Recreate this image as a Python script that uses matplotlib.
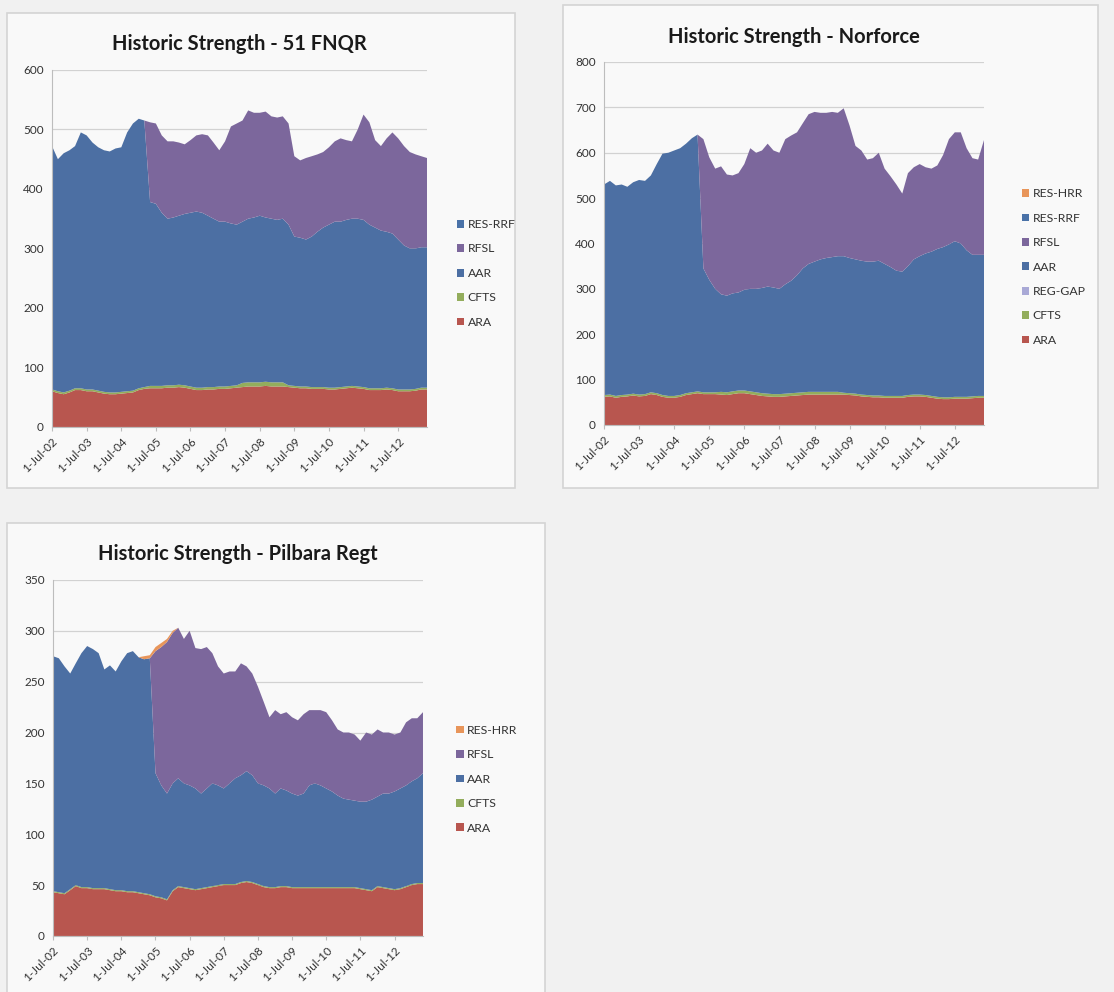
import pandas as pd
import matplotlib
matplotlib.use("Agg")
import matplotlib.pyplot as plt
from matplotlib.patches import Rectangle

# bi-monthly samples (Jul-02 .. May-13)
dates = pd.date_range("2002-07-01", periods=66, freq="2MS")

# ---- 51 FNQR ----
fnqr_ara = [60, 57, 55, 58, 62, 62, 60, 60, 58, 56, 55, 55, 56, 57, 58, 62, 64, 65, 65, 65,
            66, 66, 67, 66, 64, 62, 62, 63, 63, 64, 64, 65, 66, 67, 68, 68, 68, 69, 68, 68,
            68, 67, 66, 65, 65, 64, 64, 64, 63, 63, 64, 65, 66, 65, 64, 62, 62, 62, 63, 62,
            60, 60, 60, 61, 63, 63]
fnqr_cfts = [3] * 17 + [4] * 16 + [7] * 8 + [3] * 25
fnqr_aar = [409, 390, 402, 404, 407, 430, 427, 415, 409, 406, 405, 410, 411, 435, 449, 453, 448,
            309, 306, 291, 280, 282, 284, 288, 292, 296, 294, 288, 283, 277, 277, 273, 270,
            271, 275, 277, 280, 276, 275, 273, 275, 270, 251, 250, 247, 253, 261, 268, 274,
            279, 278, 280, 281, 282, 281, 275, 270, 265, 262, 260, 252, 242, 237, 236, 236, 236]
fnqr_rfsl = [0] * 17 + [134, 135, 130, 130, 128, 123, 117, 122, 128, 132, 135, 128, 120, 135,
                        163, 170, 170, 182, 176, 173, 178, 172, 172, 172, 170, 135, 130, 137,
                        135, 130, 127, 130, 135, 140, 134, 130, 150, 177, 172, 147, 142, 157,
                        170, 170, 167, 162, 158, 153, 150]
fnqr_res_rrf = [0] * 66

# ---- Norforce ----
nor_ara = [62, 63, 60, 62, 63, 65, 63, 64, 68, 66, 62, 60, 60, 62, 66, 68, 70, 68, 68, 68,
           67, 66, 68, 70, 70, 68, 66, 64, 63, 62, 62, 63, 64, 65, 66, 67, 67, 67, 67, 67,
           67, 67, 66, 65, 63, 62, 61, 61, 60, 60, 60, 60, 62, 63, 63, 62, 60, 58, 57, 57,
           58, 58, 58, 59, 60, 60]
nor_cfts = [4] * 20 + [6] * 21 + [4] * 25
nor_reg_gap = [0] * 66
nor_aar = [464, 471, 464, 464, 458, 466, 473, 470, 478, 505, 532, 536, 541, 544, 550, 560, 566,
           273, 248, 228, 215, 213, 216, 216, 222, 226, 228, 232, 236, 235, 232, 241, 248,
           259, 273, 282, 287, 292, 295, 297, 299, 301, 298, 296, 295, 294, 295, 297, 291,
           284, 276, 274, 284, 298, 305, 312, 318, 326, 331, 337, 343, 338, 323, 312, 311, 311]
nor_rfsl = [0] * 17 + [285, 270, 265, 282, 267, 260, 263, 277, 310, 300, 303, 315, 302, 300,
                       320, 320, 315, 320, 330, 330, 323, 320, 320, 316, 326, 292, 250, 243,
                       225, 228, 238, 210, 200, 190, 172, 205, 203, 203, 190, 183, 184, 203,
                       232, 240, 245, 225, 213, 210, 253]
nor_res_rrf = [0] * 66
nor_res_hrr = [0] * 66

# ---- Pilbara Regt ----
pil_ara = [43, 42, 41, 45, 49, 47, 47, 46, 46, 46, 45, 44, 44, 43, 43, 42, 41, 40, 38, 37,
           35, 44, 48, 47, 46, 45, 46, 47, 48, 49, 50, 50, 50, 52, 53, 52, 50, 48, 47, 47,
           48, 48, 47, 47, 47, 47, 47, 47, 47, 47, 47, 47, 47, 47, 46, 45, 44, 48, 47, 46,
           45, 46, 48, 50, 51, 51]
pil_cfts = [1] * 66
pil_aar = [231, 230, 223, 212, 218, 230, 237, 235, 231, 215, 220, 215, 225, 234, 236, 231, 230,
           232, 121, 110, 104, 105, 106, 102, 101, 99, 93, 97, 101, 98, 94, 99, 104, 105, 108,
           105, 99, 99, 97, 92, 96, 94, 92, 90, 92, 100, 102, 100, 97, 94, 90, 87, 86, 85, 85,
           86, 89, 88, 92, 93, 96, 98, 99, 101, 103, 108]
pil_rfsl = [0] * 18 + [120, 136, 149, 148, 148, 142, 152, 138, 142, 139, 128, 117, 113, 110,
                       105, 110, 103, 100, 95, 82, 70, 82, 73, 77, 75, 74, 78, 74, 72, 74, 75,
                       70, 65, 65, 66, 65, 60, 68, 64, 66, 60, 60, 56, 55, 62, 62, 59, 60]
pil_res_hrr = [0] * 16 + [3, 3, 4, 4, 3, 2] + [0] * 44

C_ARA = "#b8564f"
C_CFTS = "#93ad5c"
C_AAR = "#4c6fa3"
C_RFSL = "#7c679c"
C_RRF = "#4a72a8"
C_HRR = "#e8955a"
C_GAP = "#a9a9d6"

fig = plt.figure(figsize=(11.14, 9.92), dpi=100, facecolor="#f1f1f1")
plt.rcParams["font.family"] = ["Lato", "DejaVu Sans"]

for r in [(0.0063, 0.508, 0.456, 0.479), (0.5054, 0.508, 0.48, 0.487), (0.0063, -0.01, 0.483, 0.483)]:
    fig.add_artist(Rectangle(r[:2], r[2], r[3], transform=fig.transFigure,
                             facecolor="#f9f9f9", edgecolor="#d4d4d4", lw=1.2, zorder=0))

ticks = pd.date_range("2002-07-01", "2012-07-01", freq="12MS")


def panel(rect, title, series, labels, colors, ymax, ystep, leg_anchor, leg_space):
    ax = fig.add_axes(rect)
    ax.set_facecolor("#f9f9f9")
    ax.stackplot(dates, *series, colors=colors, labels=labels, lw=0)
    ax.set_xlim(dates[0], dates[-1])
    ax.set_ylim(0, ymax)
    ax.set_yticks(range(0, ymax + 1, ystep))
    ax.yaxis.grid(True, color="#d2d2d2", lw=0.9)
    ax.set_axisbelow(True)
    for s in ["top", "right"]:
        ax.spines[s].set_visible(False)
    ax.spines["left"].set_color("#bdbdbd")
    ax.spines["bottom"].set_color("#bdbdbd")
    ax.set_xticks(ticks)
    ax.set_xticklabels([f"1-Jul-{d.strftime('%y')}" for d in ticks], rotation=45,
                       ha="right", rotation_mode="anchor", fontsize=8.5, color="#333333")
    ax.tick_params(axis="y", length=0, labelsize=8.5, labelcolor="#333333", pad=6)
    ax.tick_params(axis="x", length=3, color="#bdbdbd")
    ax.set_title(title, fontsize=14.5, fontweight="bold", color="#1a1a1a", pad=14)
    h, l = ax.get_legend_handles_labels()
    ax.legend(h[::-1], l[::-1], loc="center left", bbox_to_anchor=leg_anchor, frameon=False,
              fontsize=8.8, handlelength=0.6, handleheight=0.6, handletextpad=0.3,
              labelspacing=leg_space, labelcolor="#333333")
    return ax


panel([0.0467, 0.5696, 0.3366, 0.3599], "Historic Strength - 51 FNQR",
      [fnqr_ara, fnqr_cfts, fnqr_aar, fnqr_rfsl, fnqr_res_rrf],
      ["ARA", "CFTS", "AAR", "RFSL", "RES-RRF"],
      [C_ARA, C_CFTS, C_AAR, C_RFSL, C_RRF], 600, 100, (1.05, 0.43), 1.1)

panel([0.5422, 0.5716, 0.3411, 0.3659], "Historic Strength - Norforce",
      [nor_ara, nor_cfts, nor_reg_gap, nor_aar, nor_rfsl, nor_res_rrf, nor_res_hrr],
      ["ARA", "CFTS", "REG-GAP", "AAR", "RFSL", "RES-RRF", "RES-HRR"],
      [C_ARA, C_CFTS, C_GAP, C_AAR, C_RFSL, C_RRF, C_HRR], 800, 100, (1.07, 0.435), 1.1)

panel([0.0476, 0.0565, 0.3321, 0.3589], "Historic Strength - Pilbara Regt",
      [pil_ara, pil_cfts, pil_aar, pil_rfsl, pil_res_hrr],
      ["ARA", "CFTS", "AAR", "RFSL", "RES-HRR"],
      [C_ARA, C_CFTS, C_AAR, C_RFSL, C_HRR], 350, 50, (1.06, 0.44), 1.1)

fig.savefig("out.png", dpi=100, facecolor=fig.get_facecolor())
